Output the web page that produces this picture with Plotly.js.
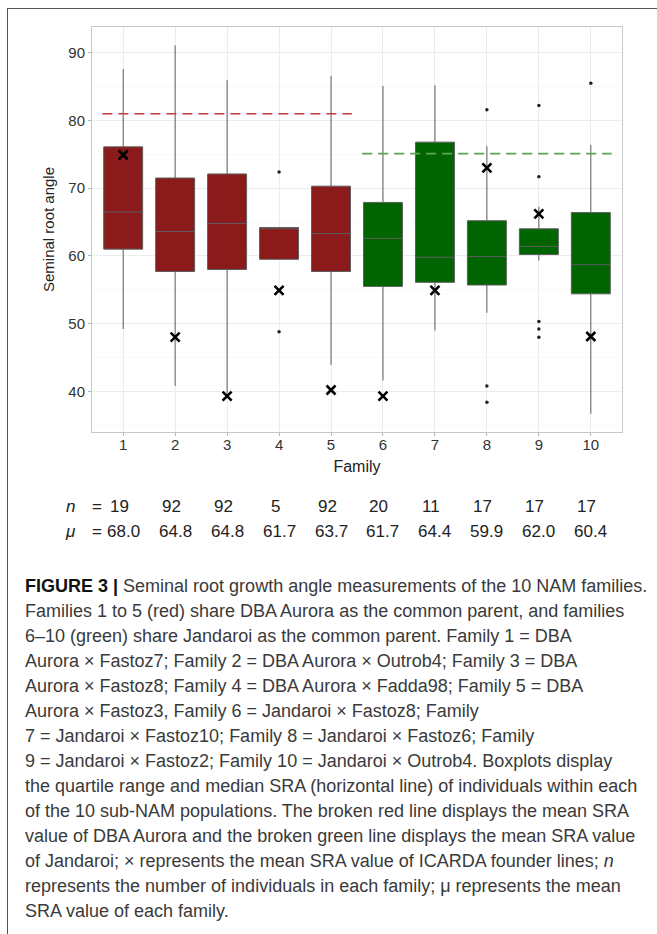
<!DOCTYPE html>
<html>
<head>
<meta charset="utf-8">
<script src="https://cdn.plot.ly/plotly-3.0.1.min.js"></script>
<style>
  html, body { margin:0; padding:0; background:#fff; }
  #wrap { position:relative; width:657px; height:934px; overflow:hidden; }
  #chart { position:absolute; left:0; top:0; width:657px; height:934px; }
  #frame { position:absolute; left:7px; top:8px; width:660px; height:940px;
           border-left:1.5px solid #555; border-top:1.5px solid #555; pointer-events:none; }
  #caption { position:absolute; left:25px; top:574px; font-family:"Liberation Sans", Arial, sans-serif;
             font-size:18px; line-height:25px; color:#3a3a3a; white-space:nowrap; }
  #caption b { color:#111; }
</style>
</head>
<body>
<div id="wrap">
  <div id="chart"></div>
  <div id="frame"></div>
  <div id="caption"></div>
</div>
<script>
// ---- data ----
const families     = [1, 2, 3, 4, 5, 6, 7, 8, 9, 10];
const tickLabels   = ['1','2','3','4','5','6','7','8','9','10'];
const groupOf      = ['red','red','red','red','red','green','green','green','green','green'];
const q1           = [61.0, 57.7, 58.0, 59.5, 57.7, 55.5, 56.1, 55.7, 60.2, 54.4];
const medians      = [66.5, 63.6, 64.8, 64.0, 63.3, 62.6, 59.8, 59.9, 61.4, 58.7];
const q3           = [76.1, 71.5, 72.1, 64.2, 70.3, 67.9, 76.8, 65.2, 64.0, 66.4];
const lowerWhisker = [49.2, 40.8, 39.6, 59.5, 43.9, 41.6, 49.0, 51.6, 59.3, 36.7];
const upperWhisker = [87.6, 91.1, 86.0, 64.2, 86.6, 85.1, 85.2, 76.2, 67.3, 76.4];
const founderMean  = [74.9, 48.0, 39.3, 54.9, 40.2, 39.3, 54.9, 73.0, 66.2, 48.1];
const outlierFamily = [4, 4, 8, 8, 8, 9, 9, 9, 9, 9, 10];
const outlierValue  = [72.4, 48.8, 81.6, 40.8, 38.4, 82.2, 71.7, 50.3, 49.2, 48.0, 85.5];
const nValues   = [19, 92, 92, 5, 92, 20, 11, 17, 17, 17];
const muValues  = [68.0, 64.8, 64.8, 61.7, 63.7, 61.7, 64.4, 59.9, 62.0, 60.4];
const auroraMean   = 81.0;
const auroraSpan   = [0.6, 5.4];
const jandaroiMean = 75.1;
const jandaroiSpan = [5.6, 10.4];

// ---- styles ----
const FONT = '"Liberation Sans", Arial, sans-serif';
const boxColors = { red: '#8b1a1a', green: '#006400' };

function pick(arr, g) { return arr.filter((_, i) => groupOf[i] === g); }

const traces = [];
['red', 'green'].forEach(g => {
  traces.push({
    type: 'box',
    x: pick(families, g),
    q1: pick(q1, g),
    median: pick(medians, g),
    q3: pick(q3, g),
    lowerfence: pick(lowerWhisker, g),
    upperfence: pick(upperWhisker, g),
    width: 0.75,
    whiskerwidth: 0,
    fillcolor: boxColors[g],
    line: { color: '#5e5e5e', width: 1 },
    boxpoints: false,
    hoverinfo: 'skip',
    showlegend: false
  });
});

traces.push({
  type: 'scatter', mode: 'lines',
  x: auroraSpan, y: [auroraMean, auroraMean],
  line: { color: '#bf3b3b', width: 1.6, dash: '10px,6px' },
  hoverinfo: 'skip', showlegend: false
});
traces.push({
  type: 'scatter', mode: 'lines',
  x: jandaroiSpan, y: [jandaroiMean, jandaroiMean],
  line: { color: '#58a758', width: 1.6, dash: '10px,6px' },
  hoverinfo: 'skip', showlegend: false
});
traces.push({
  type: 'scatter', mode: 'markers',
  x: outlierFamily, y: outlierValue,
  marker: { color: '#222', size: 3.5 },
  hoverinfo: 'skip', showlegend: false
});
traces.push({
  type: 'scatter', mode: 'markers',
  x: families, y: founderMean,
  marker: { symbol: 'x-thin', size: 9, color: '#000', line: { color: '#000', width: 2.6 } },
  hoverinfo: 'skip', showlegend: false
});

// ---- annotations: n and mu rows ----
const L = 92, R = 622, T = 27, B = 432;
const px2paperX = p => (p - L) / (R - L);
const px2paperY = p => (B - p) / (B - T);
const nRowY = px2paperY(506), muRowY = px2paperY(531);
const annFont = { family: FONT, size: 17, color: '#222' };
const annotations = [];
annotations.push({ xref: 'paper', yref: 'paper', x: px2paperX(70), y: nRowY, text: '<i>n</i>', showarrow: false, font: annFont, xanchor: 'center', yanchor: 'middle' });
annotations.push({ xref: 'paper', yref: 'paper', x: px2paperX(97), y: nRowY, text: '=', showarrow: false, font: annFont, xanchor: 'center', yanchor: 'middle' });
annotations.push({ xref: 'paper', yref: 'paper', x: px2paperX(70), y: muRowY, text: '<i>μ</i>', showarrow: false, font: annFont, xanchor: 'center', yanchor: 'middle' });
annotations.push({ xref: 'paper', yref: 'paper', x: px2paperX(97), y: muRowY, text: '=', showarrow: false, font: annFont, xanchor: 'center', yanchor: 'middle' });
families.forEach((f, i) => {
  annotations.push({ xref: 'x', yref: 'paper', x: f, y: nRowY, xshift: -4, text: String(nValues[i]), showarrow: false, font: annFont, xanchor: 'center', yanchor: 'middle' });
  annotations.push({ xref: 'x', yref: 'paper', x: f, y: muRowY, text: muValues[i].toFixed(1), showarrow: false, font: annFont, xanchor: 'center', yanchor: 'middle' });
});

const layout = {
  width: 657, height: 934,
  margin: { l: L, r: 657 - R, t: T, b: 934 - B, pad: 0 },
  paper_bgcolor: 'rgba(0,0,0,0)',
  plot_bgcolor: '#fff',
  font: { family: FONT, color: '#333' },
  boxmode: 'overlay',
  showlegend: false,
  xaxis: {
    range: [0.4, 10.6],
    tickmode: 'array', tickvals: families, ticktext: tickLabels,
    ticks: 'outside', ticklen: 3, tickcolor: '#b3b3b3', tickwidth: 1,
    ticklabelstandoff: -4,
    tickfont: { family: FONT, size: 15, color: '#333' },
    showgrid: true, gridcolor: '#ececec', gridwidth: 1,
    zeroline: false,
    showline: true, linecolor: '#c8c8c8', linewidth: 1, mirror: true,
    title: { text: 'Family', font: { family: FONT, size: 16, color: '#222' }, standoff: 8 }
  },
  yaxis: {
    range: [34, 93.8],
    tickmode: 'linear', tick0: 40, dtick: 10,
    ticks: 'outside', ticklen: 3, tickcolor: '#b3b3b3', tickwidth: 1,
    tickfont: { family: FONT, size: 15, color: '#333' },
    showgrid: true, gridcolor: '#ececec', gridwidth: 1,
    minor: { dtick: 5, showgrid: true, gridcolor: '#f5f5f5', gridwidth: 0.6, ticks: '' },
    zeroline: false,
    showline: true, linecolor: '#c8c8c8', linewidth: 1, mirror: true,
    title: { text: 'Seminal root angle', font: { family: FONT, size: 15, color: '#222' }, standoff: 10 }
  },
  annotations: annotations
};

Plotly.newPlot('chart', traces, layout, { staticPlot: true, displayModeBar: false });

// ---- caption ----
const captionLines = [
  '<b>FIGURE 3 |</b> Seminal root growth angle measurements of the 10 NAM families.',
  'Families 1 to 5 (red) share DBA Aurora as the common parent, and families',
  '6–10 (green) share Jandaroi as the common parent. Family 1 = DBA',
  'Aurora × Fastoz7; Family 2 = DBA Aurora × Outrob4; Family 3 = DBA',
  'Aurora × Fastoz8; Family 4 = DBA Aurora × Fadda98; Family 5 = DBA',
  'Aurora × Fastoz3, Family 6 = Jandaroi × Fastoz8; Family',
  '7 = Jandaroi × Fastoz10; Family 8 = Jandaroi × Fastoz6; Family',
  '9 = Jandaroi × Fastoz2; Family 10 = Jandaroi × Outrob4. Boxplots display',
  'the quartile range and median SRA (horizontal line) of individuals within each',
  'of the 10 sub-NAM populations. The broken red line displays the mean SRA',
  'value of DBA Aurora and the broken green line displays the mean SRA value',
  'of Jandaroi; × represents the mean SRA value of ICARDA founder lines; <i>n</i>',
  'represents the number of individuals in each family; μ represents the mean',
  'SRA value of each family.'
];
document.getElementById('caption').innerHTML = captionLines.map(s => '<div>' + s + '</div>').join('');
</script>
</body>
</html>
